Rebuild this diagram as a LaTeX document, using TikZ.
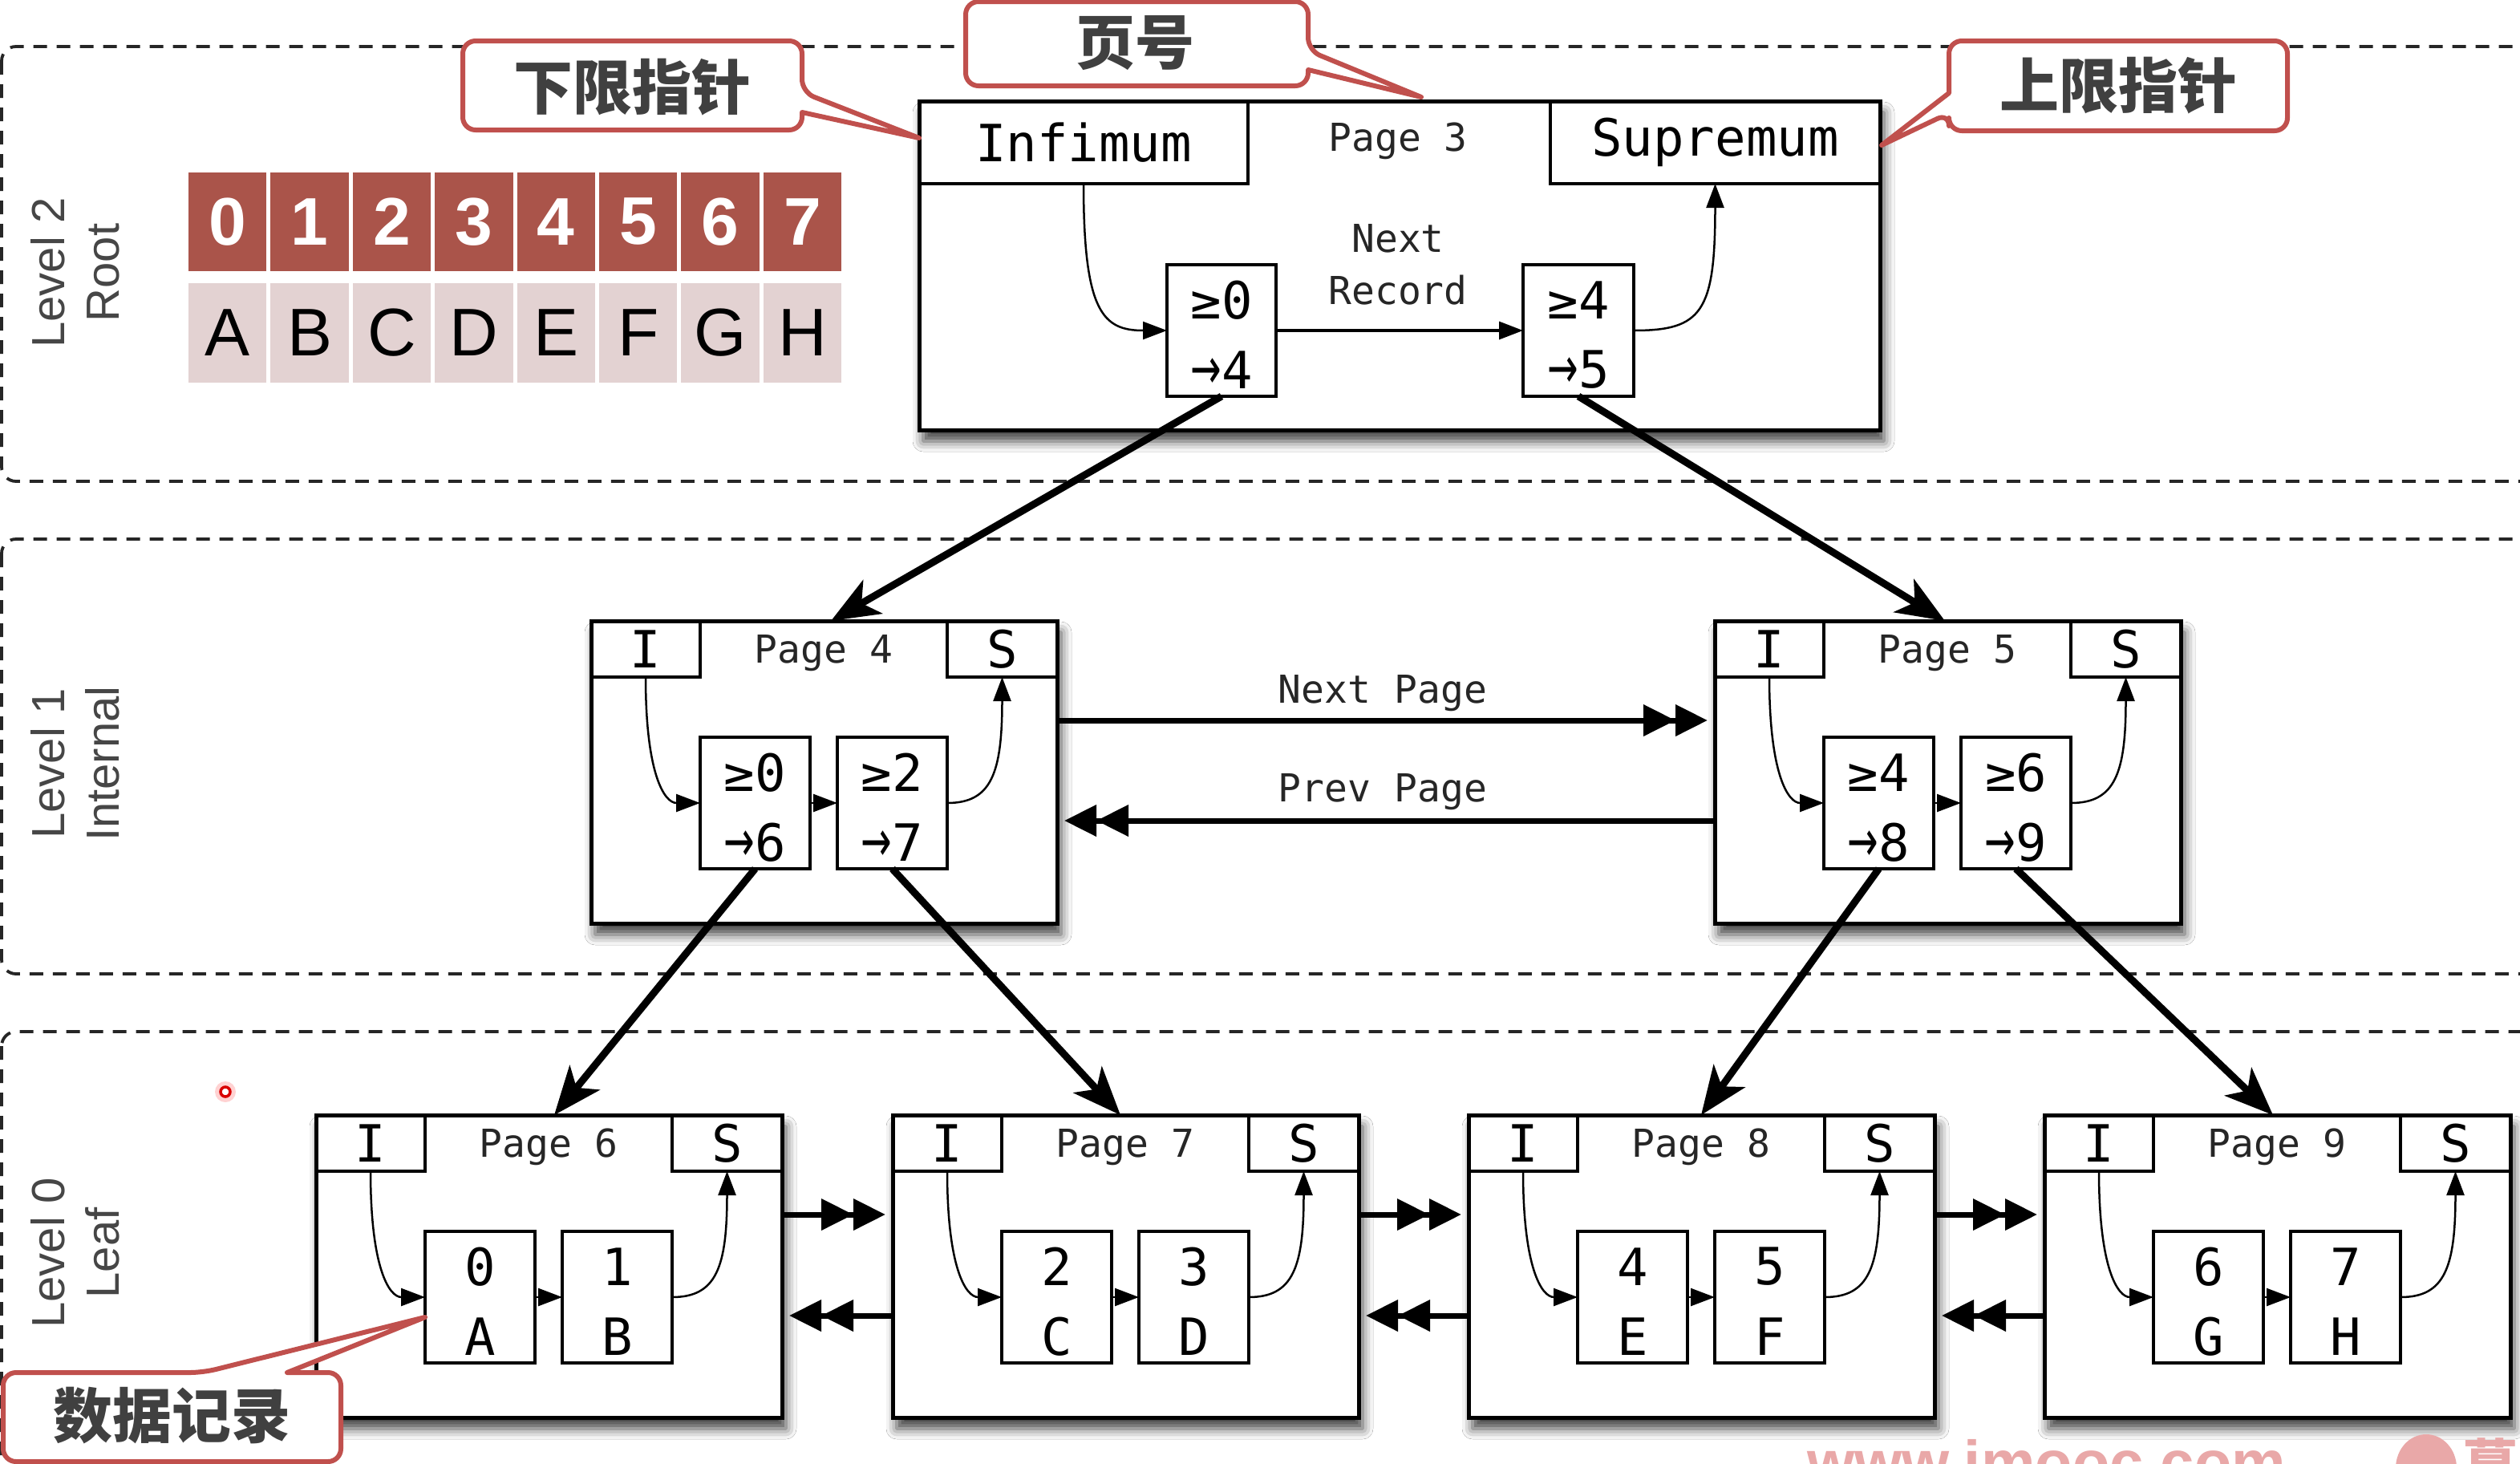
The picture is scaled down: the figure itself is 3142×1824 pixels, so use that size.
\documentclass[tikz,border=0pt]{standalone}
\usepackage{fontspec}
\usepackage{graphicx}
\newfontfamily\monof{DejaVu Sans Mono}
\newfontfamily\arrf{DejaVu Sans}
\newfontfamily\sansf{Liberation Sans}
\newfontfamily\cjkf{Noto Sans CJK SC}
\usetikzlibrary{arrows.meta,shadows.blur,calc}

\definecolor{cellred}{RGB}{170,84,74}
\definecolor{cellpink}{RGB}{227,210,210}
\definecolor{callred}{RGB}{192,80,77}
\definecolor{calltext}{RGB}{64,64,64}
\definecolor{lvlgray}{RGB}{70,70,70}
\definecolor{wmpink}{RGB}{233,168,168}

\newcommand{\bigfont}{\monof\fontsize{64}{64}\selectfont}
\newcommand{\smallfont}{\monof\fontsize{48}{48}\selectfont}
\newcommand{\ar}{{\arrf\scalebox{0.72}[1.12]{→}}}

\tikzset{
 pg/.style={draw, line width=5pt, fill=white, inner sep=0pt, outer sep=0pt, anchor=north west,
   blur shadow={shadow xshift=5pt, shadow yshift=-14pt, shadow blur radius=13pt, shadow opacity=75}},
 hdr/.style={draw, line width=3.5pt, inner sep=0pt, outer sep=0pt, anchor=north west, font=\bigfont},
 rec/.style={draw, line width=3.5pt, inner sep=0pt, outer sep=0pt, anchor=north west, minimum width=137pt, minimum height=164pt},
 bigt/.style={inner sep=0pt, font=\bigfont},
 smallt/.style={inner sep=0pt, font=\smallfont, text=black!85},
 ptr/.style={line width=2.5pt, -{Triangle[length=30pt,width=22pt]}},
 down/.style={line width=9pt, -{Stealth[length=60pt,width=48pt,inset=16pt]}},
 dbl/.style={line width=7pt, shorten >=9pt, -{Triangle[length=40pt,width=38pt]Triangle[length=40pt,width=38pt]}},
 band/.style={draw=black!85, line width=3.8pt, dash pattern=on 17pt off 12pt, rounded corners=18pt},
 lvl/.style={rotate=90, align=center, text=lvlgray, font=\sansf\fontsize{58}{68}\selectfont, inner sep=0pt},
 callout/.style={draw=callred, line width=6pt, fill=white, line join=round},
 calltxt/.style={text=calltext, font=\cjkf\bfseries\fontsize{74}{74}\selectfont, inner sep=0pt},
 redcell/.style={fill=cellred, text=white, minimum width=97.4pt, minimum height=123pt, inner sep=0pt, font=\sansf\bfseries\fontsize{84}{84}\selectfont},
 pinkcell/.style={fill=cellpink, text=black, minimum width=97.4pt, minimum height=124pt, inner sep=0pt, font=\sansf\fontsize{84}{84}\selectfont},
}

\newcommand{\mkpage}[7]{%
 \node[pg, minimum width=581pt, minimum height=377pt] (#1) at (#2) {};
 \node[hdr, minimum width=136pt, minimum height=70pt] (#1I) at (#1.north west) {I};
 \node[hdr, anchor=north east, minimum width=137pt, minimum height=70pt] (#1S) at (#1.north east) {S};
 \node[smallt] (#1t) at ($(#1.north west)+(290,40)$) {Page #3};
 \node[rec] (#1a) at ($(#1.north west)+(136,145)$) {};
 \node[rec] (#1b) at ($(#1.north west)+(307,145)$) {};
 \node[bigt] (#1a1) at ($(#1a.north)+(0,44)$) {#4};
 \node[bigt] (#1a2) at ($(#1a.south)+(0,-33)$) {#5};
 \node[bigt] (#1b1) at ($(#1b.north)+(0,44)$) {#6};
 \node[bigt] (#1b2) at ($(#1b.south)+(0,-33)$) {#7};
 \draw[ptr] (#1I.south) .. controls +(0,120) and +(-45,0) .. (#1a.west);
 \draw[ptr] (#1a.east) -- (#1b.west);
 \draw[ptr] (#1b.east) .. controls +(55,0) and +(0,120) .. (#1S.south);
}

\begin{document}
\begin{tikzpicture}[x=1pt,y=-1pt]
\useasboundingbox (0,0) rectangle (3142,1824);
\clip (0,0) rectangle (3142,1824);
\fill[white] (0,0) rectangle (3142,1824);

% level bands
\draw[band] (2,58) rectangle (3250,600);
\draw[band] (2,672) rectangle (3250,1214);
\draw[band] (2,1286) rectangle (3250,1950);

\node[lvl] (lv2) at (94,340) {Level 2\\Root};
\node[lvl] (lv1) at (94,952) {Level 1\\Internal};
\node[lvl] (lv0) at (94,1562) {Level 0\\Leaf};

% table
\foreach \i/\d/\l in {0/0/A,1/1/B,2/2/C,3/3/D,4/4/E,5/5/F,6/6/G,7/7/H}{
  \node[redcell] (d\i) at (283.7+102.4*\i, 276.5) {\d};
  \node[pinkcell] (c\i) at (283.7+102.4*\i, 415) {\l};
}

% page 3
\node[pg, minimum width=1198pt, minimum height=410pt] (p3) at (1146,126) {};
\node[hdr, minimum width=410pt, minimum height=103pt] (inf) at (p3.north west) {Infimum};
\node[hdr, anchor=north east, minimum width=411pt, minimum height=103pt] (sup) at (p3.north east) {Supremum};
\node[smallt] (p3t) at (1743,176) {Page 3};
\node[rec, minimum width=136pt] (r3a) at (1455,330) {};
\node[rec, minimum width=138pt] (r3b) at (1899,330) {};
\node[bigt] (r3a1) at ($(r3a.north)+(0,44)$) {≥0};
\node[bigt] (r3a2) at ($(r3a.south)+(0,-33)$) {\ar4};
\node[bigt] (r3b1) at ($(r3b.north)+(0,44)$) {≥4};
\node[bigt] (r3b2) at ($(r3b.south)+(0,-33)$) {\ar5};
\node[smallt] (nr1) at (1743,297) {Next};
\node[smallt] (nr2) at (1743,362) {Record};
\draw[ptr] (inf.south) .. controls +(0,160) and +(-80,0) .. (r3a.west);
\draw[ptr, line width=3.5pt] (r3a.east) -- (r3b.west);
\draw[ptr] (r3b.east) .. controls +(85,0) and +(0,160) .. (sup.south);

% level 1 pages
\mkpage{p4}{737,774}{4}{≥0}{\ar6}{≥2}{\ar7}
\mkpage{p5}{2138,774}{5}{≥4}{\ar8}{≥6}{\ar9}
\draw[dbl] ($(p4.north east)+(0,124)$) -- ($(p5.north west)+(0,124)$);
\draw[dbl] ($(p5.north west)+(0,249)$) -- ($(p4.north east)+(0,249)$);
\node[smallt] (np) at (1724,864) {Next Page};
\node[smallt] (pp) at (1724,987) {Prev Page};

% leaf pages
\mkpage{p6}{394,1390}{6}{0}{A}{1}{B}
\mkpage{p7}{1113,1390}{7}{2}{C}{3}{D}
\mkpage{p8}{1831,1390}{8}{4}{E}{5}{F}
\mkpage{p9}{2549,1390}{9}{6}{G}{7}{H}
\foreach \a/\b in {p6/p7,p7/p8,p8/p9}{
  \draw[dbl] ($(\a.north east)+(0,124)$) -- ($(\b.north west)+(0,124)$);
  \draw[dbl] ($(\b.north west)+(0,250)$) -- ($(\a.north east)+(0,250)$);
}

% tree arrows
\draw[down] (r3a.south) -- ($(p4.north west)+(299,0)$);
\draw[down] (r3b.south) -- ($(p5.north west)+(287,0)$);
\draw[down] (p4a.south) -- ($(p6.north west)+(297,0)$);
\draw[down] (p4b.south) -- ($(p7.north west)+(284,0)$);
\draw[down] (p5a.south) -- ($(p8.north west)+(290,0)$);
\draw[down] (p5b.south) -- ($(p9.north west)+(285,0)$);

% red dot
\fill[red!35, opacity=.5] (281,1361) circle (13);
\draw[red!85!black, line width=3.5pt, fill=white] (281,1361) circle (6);

% watermark
\node[anchor=base west, inner sep=0pt, text=wmpink, font=\sansf\bfseries\fontsize{76}{76}\selectfont] (wm) at (2253,1849) {www.imooc.com};
\fill[wmpink] (3025,1830) ellipse [x radius=38, y radius=42];
\node[anchor=base west, inner sep=0pt, text=wmpink, font=\cjkf\bfseries\fontsize{70}{70}\selectfont] (wm2) at (3070,1852) {慕课网};

% callouts
\draw[callout] (790,51) [rounded corners=16pt] -- (1000,51) -- (1000,115) [sharp corners] -- (1146,172) -- (1000,140) [rounded corners=16pt] -- (1000,162) -- (577,162) -- (577,51) -- cycle;
\node[calltxt] (c1) at (788,109) {下限指针};
\draw[callout] (1417,2) [rounded corners=16pt] -- (1631,2) -- (1631,63) [sharp corners] -- (1772,121) -- (1631,87) [rounded corners=16pt] -- (1631,107) -- (1204,107) -- (1204,2) -- cycle;
\node[calltxt] (c2) at (1415,54) {页号};
\draw[callout] (2641,51) [rounded corners=16pt] -- (2852,51) -- (2852,163) -- (2430,163) -- (2430,141) [sharp corners] -- (2346,181) -- (2430,116) [rounded corners=16pt] -- (2430,51) -- cycle;
\node[calltxt] (c3) at (2641,107) {上限指针};
\draw[callout] (4,1765) [rounded corners=16pt] -- (4,1711) -- (253,1711) [sharp corners] -- (530,1642) -- (358,1711) [rounded corners=16pt] -- (425,1711) -- (425,1822) -- (4,1822) -- cycle;
\node[calltxt] (c4) at (214,1765) {数据记录};
\end{tikzpicture}
\end{document}
